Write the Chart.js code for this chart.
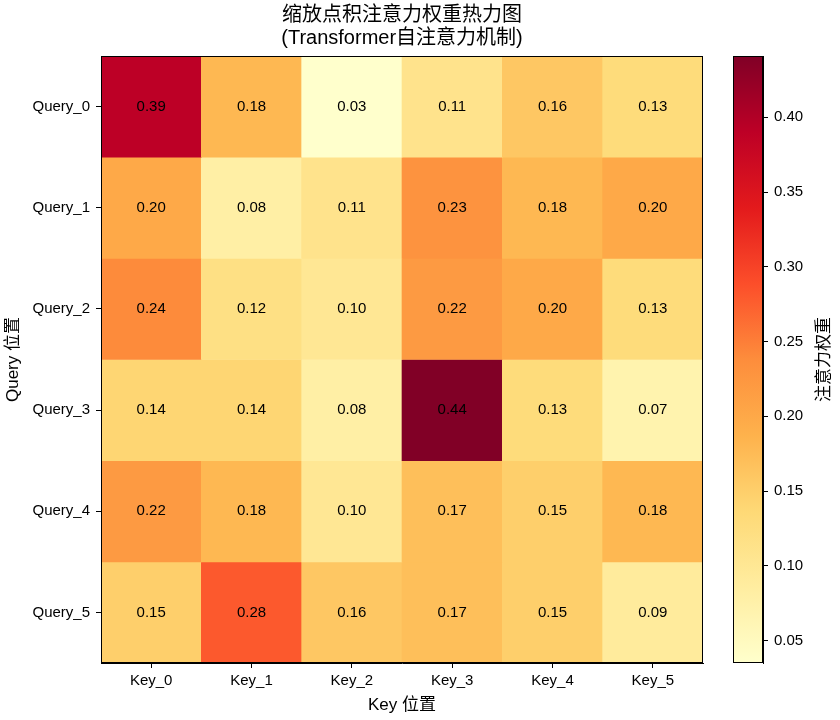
<!DOCTYPE html>
<html>
<head>
<meta charset="utf-8">
<script src="https://cdn.jsdelivr.net/npm/chart.js@4.4.1/dist/chart.umd.min.js"></script>
<style>
  body { margin: 0; background: #fff; }
  #wrap { position: relative; width: 840px; height: 720px; }
  #heat { position: absolute; left: 0; top: 0; }
  #cbar { position: absolute; left: 720px; top: 0; }
</style>
</head>
<body>
<div id="wrap">
  <canvas id="heat" width="720" height="720"></canvas>
  <canvas id="cbar" width="120" height="720"></canvas>
</div>
<script>
const keys = ['Key_0', 'Key_1', 'Key_2', 'Key_3', 'Key_4', 'Key_5'];
const queries = ['Query_0', 'Query_1', 'Query_2', 'Query_3', 'Query_4', 'Query_5'];
const weights = [
  [0.39, 0.18, 0.03, 0.11, 0.16, 0.13],
  [0.20, 0.08, 0.11, 0.23, 0.18, 0.20],
  [0.24, 0.12, 0.10, 0.22, 0.20, 0.13],
  [0.14, 0.14, 0.08, 0.44, 0.13, 0.07],
  [0.22, 0.18, 0.10, 0.17, 0.15, 0.18],
  [0.15, 0.28, 0.16, 0.17, 0.15, 0.09],
];
const colorbarTicks = [0.05, 0.10, 0.15, 0.20, 0.25, 0.30, 0.35, 0.40];
const colorMin = 0.035;
const colorMax = 0.441;

const FONT = '"Liberation Sans", Arial, "Noto Sans CJK SC", sans-serif';
Chart.defaults.font.family = FONT;
Chart.defaults.color = '#000';

// YlOrRd stops
const ylorrd = ['#ffffcc', '#ffeda0', '#fed976', '#feb24c', '#fd8d3c', '#fc4e2a', '#e31a1c', '#bd0026', '#800026'];

function hexToRgb(h) {
  const n = parseInt(h.slice(1), 16);
  return [(n >> 16) & 255, (n >> 8) & 255, n & 255];
}

function cmap(v) {
  let t = (v - colorMin) / (colorMax - colorMin);
  t = Math.min(1, Math.max(0, t)) * (ylorrd.length - 1);
  const i = Math.min(Math.floor(t), ylorrd.length - 2);
  const f = t - i;
  const a = hexToRgb(ylorrd[i]);
  const b = hexToRgb(ylorrd[i + 1]);
  const c = a.map((x, k) => Math.round(x + (b[k] - x) * f));
  return `rgb(${c[0]}, ${c[1]}, ${c[2]})`;
}

const frame = {
  id: 'frame',
  afterDraw(chart) {
    const { ctx, chartArea: a } = chart;
    ctx.save();
    ctx.strokeStyle = '#000';
    ctx.lineWidth = 1;
    ctx.strokeRect(a.left + 0.5, a.top + 0.5, a.right - a.left - 1, a.bottom - a.top - 1);
    ctx.restore();
  }
};

const cellLabels = {
  id: 'cellLabels',
  afterDatasetsDraw(chart) {
    const { ctx } = chart;
    ctx.save();
    ctx.font = '15px ' + FONT;
    ctx.fillStyle = '#000';
    ctx.textAlign = 'center';
    ctx.textBaseline = 'middle';
    chart.data.datasets.forEach((ds, i) => {
      chart.getDatasetMeta(i).data.forEach((el, j) => {
        const p = el.getCenterPoint();
        ctx.fillText(weights[i][j].toFixed(2), p.x, p.y);
      });
    });
    ctx.restore();
  }
};

const cbarLabel = {
  id: 'cbarLabel',
  afterDraw(chart) {
    const { ctx, chartArea: a } = chart;
    ctx.save();
    ctx.font = '17px ' + FONT;
    ctx.fillStyle = '#000';
    ctx.textAlign = 'center';
    ctx.textBaseline = 'middle';
    ctx.translate(104, (a.top + a.bottom) / 2);
    ctx.rotate(-Math.PI / 2);
    ctx.fillText('注意力权重', 0, 0);
    ctx.restore();
  }
};

new Chart(document.getElementById('heat'), {
  type: 'bar',
  data: {
    labels: keys,
    datasets: queries.map((q, i) => ({
      label: q,
      data: keys.map(() => [i, i + 1]),
      backgroundColor: weights[i].map(cmap),
      borderWidth: 0,
      grouped: false,
      barPercentage: 1,
      categoryPercentage: 1,
    }))
  },
  options: {
    responsive: false,
    animation: false,
    events: [],
    layout: { padding: { right: 17 } },
    plugins: {
      legend: { display: false },
      tooltip: { enabled: false },
      title: {
        display: true,
        fullSize: false,
        text: ['缩放点积注意力权重热力图', '(Transformer自注意力机制)'],
        font: { size: 20, weight: 'normal', lineHeight: 1.15 },
        color: '#000',
        padding: { top: 4, bottom: 6 },
      }
    },
    scales: {
      x: {
        grid: { offset: false, drawOnChartArea: false, tickLength: 5, tickColor: '#000' },
        border: { color: '#000' },
        ticks: { font: { size: 15 }, padding: 4, maxRotation: 0 },
        title: { display: true, text: 'Key 位置', font: { size: 17 }, padding: { top: 0, bottom: 4 } },
        afterFit: (s) => { s.height = 57; }
      },
      y: {
        reverse: true,
        min: 0,
        max: queries.length,
        afterBuildTicks: (s) => { s.ticks = queries.map((q, i) => ({ value: i + 0.5 })); },
        ticks: { font: { size: 15 }, padding: 6, callback: (v) => queries[Math.floor(v)] },
        grid: { drawOnChartArea: false, tickLength: 5, tickColor: '#000' },
        border: { color: '#000' },
        title: { display: true, text: 'Query 位置', font: { size: 17 }, padding: { top: 3, bottom: 0 } },
        afterFit: (s) => { s.width = 101; }
      }
    }
  },
  plugins: [cellLabels, frame]
});

new Chart(document.getElementById('cbar'), {
  type: 'bar',
  data: {
    labels: [''],
    datasets: [{
      data: [[colorMin, colorMax]],
      backgroundColor: (c) => {
        const { chart } = c;
        const a = chart.chartArea;
        if (!a) return ylorrd[4];
        const g = chart.ctx.createLinearGradient(0, a.bottom, 0, a.top);
        ylorrd.forEach((col, k) => g.addColorStop(k / (ylorrd.length - 1), col));
        return g;
      },
      borderWidth: 0,
      barPercentage: 1,
      categoryPercentage: 1,
    }]
  },
  options: {
    responsive: false,
    animation: false,
    events: [],
    layout: { padding: { left: 13, top: 56, bottom: 57 } },
    plugins: {
      legend: { display: false },
      tooltip: { enabled: false },
    },
    scales: {
      x: { display: false },
      y: {
        position: 'right',
        min: colorMin,
        max: colorMax,
        afterBuildTicks: (s) => { s.ticks = colorbarTicks.map((v) => ({ value: v })); },
        ticks: { font: { size: 15 }, padding: 6, callback: (v) => v.toFixed(2) },
        grid: { drawOnChartArea: false, tickLength: 5, tickColor: '#000' },
        border: { color: '#000' },
        afterFit: (s) => { s.width = 77; }
      }
    }
  },
  plugins: [frame, cbarLabel]
});
</script>
</body>
</html>
